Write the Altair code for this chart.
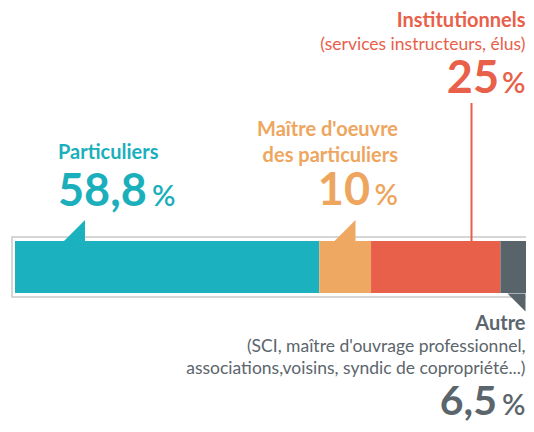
import altair as alt
import pandas as pd

# ---- data ----
categories = ["Particuliers", "Maître d'oeuvre des particuliers", "Institutionnels", "Autre"]
values = [58.8, 10, 25, 6.5]
colors = ["#1BB1BE", "#EFA862", "#E8604A", "#59636A"]
text_colors = ["#1BAFBC", "#EEA65F", "#E8604A", "#5B656C"]
title_lines = [["Particuliers"], ["Maître d'oeuvre", "des particuliers"], ["Institutionnels"], ["Autre"]]
detail_lines = [[], [], ["(services instructeurs, élus)"],
                ["(SCI, maître d'ouvrage professionnel,", "associations,voisins, syndic de copropriété...)"]]
pct_labels = [f"{v:g}".replace(".", ",") for v in values]

starts, acc = [], 0.0
for v in values:
    starts.append(acc)
    acc += v
df = pd.DataFrame({"category": categories, "value": values, "start": starts,
                   "end": [s + v for s, v in zip(starts, values)]})

FONT = "Lato"
W, H = 518, 416
OX, OY = 8, 8
def px(x): return x - OX
def py(y): return y - OY

one = pd.DataFrame({"k": [0]})

def txt(s, x, y, size, color, align="left", weight="bold"):
    return alt.Chart(one).mark_text(align=align, baseline="alphabetic", font=FONT,
                                    fontSize=size, fontWeight=weight, color=color).encode(
        x=alt.value(px(x)), y=alt.value(py(y)), text=alt.value(s))

PPU = 5.175  # pixels per percent
xscale = alt.Scale(domain=[-7 / PPU, (W - 7) / PPU], nice=False, zero=False)

border = alt.Chart(one).mark_rect(filled=False, stroke="#c9c9c9", strokeWidth=1.5).encode(
    x=alt.value(px(12)), x2=alt.value(px(560)), y=alt.value(py(237)), y2=alt.value(py(297)))

bars = alt.Chart(df).mark_rect().encode(
    x=alt.X("start:Q", scale=xscale, axis=None),
    x2="end:Q",
    y=alt.value(py(241)), y2=alt.value(py(293)),
    color=alt.Color("category:N", scale=alt.Scale(domain=categories, range=colors), legend=None),
)

def pointer(path, cx, cy, side, color):
    return alt.Chart(one).mark_point(shape=path, filled=True, fill=color, stroke=None,
                                     opacity=1, size=side * side).encode(
        x=alt.value(px(cx)), y=alt.value(py(cy)))

layers = [border, bars]

# pointers
layers.append(pointer("M 1 -1 L 1 1 L -1 1 Z", 74.5, 230.5, 21, colors[0]))
layers.append(pointer("M 1 -1 L 1 1 L -1 1 Z", 345, 230.5, 21, colors[1]))
layers.append(pointer("M -1 -1 L 1 -1 L 1 1 Z", 516.5, 302.5, 18, colors[3]))
layers.append(alt.Chart(one).mark_rule(color=colors[2], strokeWidth=2).encode(
    x=alt.value(px(471.5)), y=alt.value(py(103)), y2=alt.value(py(241))))

TS = 20     # title size
DS = 17.5   # detail size
NS = 45     # number size
PS = 29     # percent size
R = 525.5   # right edge of right-aligned texts

# Particuliers
layers.append(txt(title_lines[0][0], 58, 159, TS, text_colors[0]))
layers.append(txt(pct_labels[0], 58, 206, NS, text_colors[0]))
layers.append(txt("%", 152, 206, PS, text_colors[0], weight=600))

# Maître d'oeuvre
layers.append(txt(title_lines[1][0], 398, 136, TS, text_colors[1], align="right"))
layers.append(txt(title_lines[1][1], 398, 162, TS, text_colors[1], align="right"))
layers.append(txt(pct_labels[1], 370, 205, NS, text_colors[1], align="right"))
layers.append(txt("%", 398, 205, PS, text_colors[1], align="right", weight=600))

# Institutionnels
layers.append(txt(title_lines[2][0], R, 27, TS, text_colors[2], align="right"))
layers.append(txt(detail_lines[2][0], R, 50, DS, text_colors[2], align="right", weight="normal"))
layers.append(txt(pct_labels[2], 499, 93, NS, text_colors[2], align="right"))
layers.append(txt("%", R, 93, PS, text_colors[2], align="right", weight=600))

# Autre
layers.append(txt(title_lines[3][0], R, 330, TS, text_colors[3], align="right"))
layers.append(txt(detail_lines[3][0], R, 352, DS, text_colors[3], align="right", weight="normal"))
layers.append(txt(detail_lines[3][1], R, 374, DS, text_colors[3], align="right", weight="normal"))
layers.append(txt(pct_labels[3], 497, 415, 41, text_colors[3], align="right"))
layers.append(txt("%", R, 415, PS, text_colors[3], align="right", weight=600))

chart = alt.layer(*layers).properties(
    width=W, height=H, padding=0, autosize=alt.AutoSizeParams(type="none"),
    background="white",
).configure_view(stroke=None)

chart.save("out.html", embed_options={"renderer": "svg", "actions": False})
